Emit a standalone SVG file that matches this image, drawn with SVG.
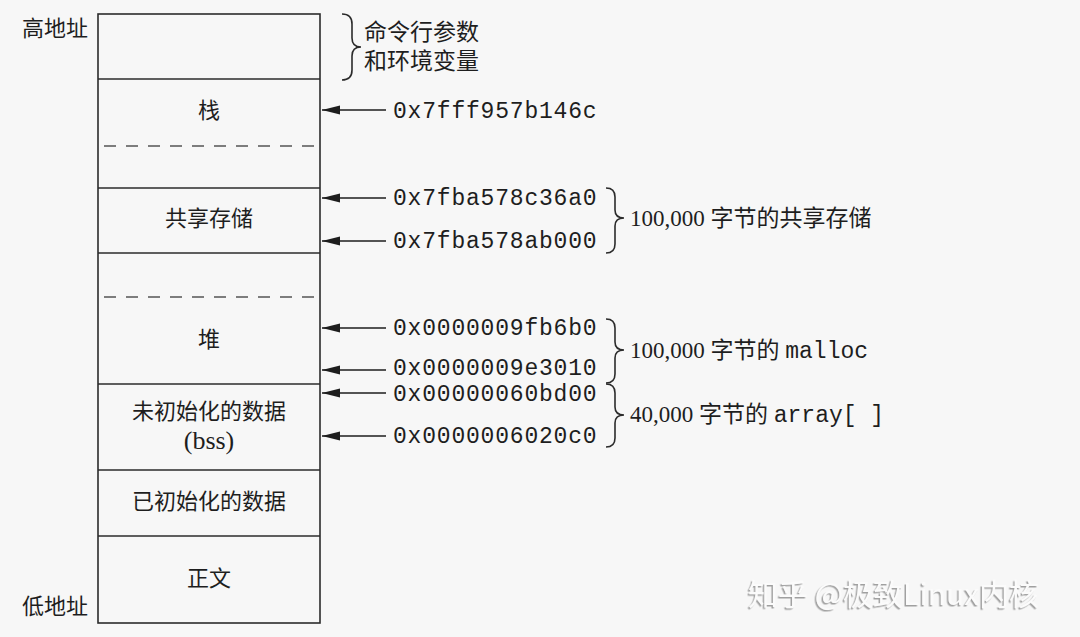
<svg xmlns="http://www.w3.org/2000/svg" width="1080" height="637" viewBox="0 0 1080 637">
  <style>
    .box { fill: none; stroke: #2b2b2b; stroke-width: 1.6; }
    .sep { stroke: #2b2b2b; stroke-width: 1.6; }
    .dash { stroke: #555; stroke-width: 1.6; stroke-dasharray: 12 10; }
    .lbl { font-family: "Liberation Serif", "Noto Sans CJK SC", serif; font-size: 22px; fill: #1e1e1e; text-anchor: middle; }
    .bss { font-size: 26px; }
    .side { font-family: "Liberation Serif", "Noto Sans CJK SC", serif; font-size: 22px; fill: #1e1e1e; }
    .addr { font-family: "Liberation Mono", "Courier New", monospace; font-size: 23px; letter-spacing: 0.8px; fill: #1e1e1e; }
    .note { font-family: "Liberation Serif", "Noto Sans CJK SC", serif; font-size: 23px; fill: #1e1e1e; }
    .mono { font-family: "Liberation Mono", "Courier New", monospace; }
    .arrow { stroke: #1e1e1e; stroke-width: 1.4; fill: none; marker-end: url(#head); }
    .brace { stroke: #2b2b2b; stroke-width: 1.6; fill: none; }
    .wm { font-family: "Noto Sans CJK SC", sans-serif; font-size: 30px; fill: #fbfbfb; filter: url(#emboss); }
  </style>
  <defs>
    <marker id="head" viewBox="0 0 18 10" refX="18" refY="5" markerWidth="18" markerHeight="10" markerUnits="userSpaceOnUse" orient="auto">
      <path d="M0,0.5 L18,5 L0,9.5 Z" fill="#1e1e1e"/>
    </marker>
    <filter id="emboss" x="-5%" y="-20%" width="110%" height="140%">
      <feDropShadow dx="-1.5" dy="1.5" stdDeviation="0.6" flood-color="#8a8a8a" flood-opacity="0.8"/>
    </filter>
  </defs>

  <rect width="1080" height="637" fill="#f7f7f7"/>

  <!-- address side labels -->
  <g id="addr-high"><text class="side" x="22" y="36">高地址</text></g>
  <g id="addr-low"><text class="side" x="22" y="614">低地址</text></g>

  <!-- memory layout column -->
  <g id="layout">
    <rect class="box" x="98" y="14" width="222" height="609"/>
  </g>
  <g id="seg-env">
    <line class="sep" x1="98" y1="79" x2="320" y2="79"/>
  </g>
  <g id="seg-stack">
    <text class="lbl" x="209" y="118">栈</text>
    <line class="dash" x1="104" y1="146" x2="320" y2="146"/>
    <line class="sep" x1="98" y1="188" x2="320" y2="188"/>
  </g>
  <g id="seg-shm">
    <text class="lbl" x="209" y="226">共享存储</text>
    <line class="sep" x1="98" y1="253" x2="320" y2="253"/>
  </g>
  <g id="seg-heap">
    <line class="dash" x1="104" y1="297" x2="320" y2="297"/>
    <text class="lbl" x="209" y="347">堆</text>
    <line class="sep" x1="98" y1="384" x2="320" y2="384"/>
  </g>
  <g id="seg-bss">
    <text class="lbl" x="209" y="419">未初始化的数据</text>
    <text class="lbl bss" x="209" y="449">(bss)</text>
    <line class="sep" x1="98" y1="470" x2="320" y2="470"/>
  </g>
  <g id="seg-data">
    <text class="lbl" x="209" y="509">已初始化的数据</text>
    <line class="sep" x1="98" y1="536" x2="320" y2="536"/>
  </g>
  <g id="seg-text">
    <text class="lbl" x="209" y="586">正文</text>
  </g>

  <!-- pointer arrows -->
  <g id="connectors">
    <line class="arrow" x1="386" y1="110" x2="322" y2="110"/>
    <line class="arrow" x1="386" y1="198" x2="322" y2="198"/>
    <line class="arrow" x1="386" y1="241" x2="322" y2="241"/>
    <line class="arrow" x1="386" y1="328" x2="322" y2="328"/>
    <line class="arrow" x1="386" y1="370" x2="322" y2="370"/>
    <line class="arrow" x1="386" y1="393" x2="322" y2="393"/>
    <line class="arrow" x1="386" y1="436" x2="322" y2="436"/>
  </g>

  <!-- address values -->
  <g id="addresses">
    <text class="addr" x="393" y="118">0x7fff957b146c</text>
    <text class="addr" x="393" y="205">0x7fba578c36a0</text>
    <text class="addr" x="393" y="248">0x7fba578ab000</text>
    <text class="addr" x="393" y="335">0x0000009fb6b0</text>
    <text class="addr" x="393" y="375">0x0000009e3010</text>
    <text class="addr" x="393" y="401">0x00000060bd00</text>
    <text class="addr" x="393" y="443">0x0000006020c0</text>
  </g>

  <!-- braces and notes -->
  <g id="note-env">
    <path class="brace" d="M342,14 Q352,14 352,24 L352,38 Q352,47 361,47 Q352,47 352,56 L352,70 Q352,80 342,80"/>
    <text class="note" x="364" y="40">命令行参数</text>
    <text class="note" x="364" y="69">和环境变量</text>
  </g>
  <g id="note-shm">
    <path class="brace" d="M606,188 Q615,188 615,197 L615,210 Q615,218 624,218 Q615,218 615,226 L615,244 Q615,253 606,253"/>
    <text class="note" x="630" y="226">100,000 字节的共享存储</text>
  </g>
  <g id="note-heap">
    <path class="brace" d="M606,319 Q615,319 615,328 L615,342 Q615,350 624,350 Q615,350 615,358 L615,374 Q615,383 606,383"/>
    <text class="note" x="630" y="358">100,000 字节的 <tspan class="mono">malloc</tspan></text>
  </g>
  <g id="note-bss">
    <path class="brace" d="M606,384 Q615,384 615,393 L615,407 Q615,415 624,415 Q615,415 615,423 L615,438 Q615,447 606,447"/>
    <text class="note" x="630" y="422">40,000 字节的 <tspan class="mono">array[ ]</tspan></text>
  </g>

  <!-- watermark -->
  <text class="wm" x="748" y="605">知乎 @极致Linux内核</text>
</svg>
